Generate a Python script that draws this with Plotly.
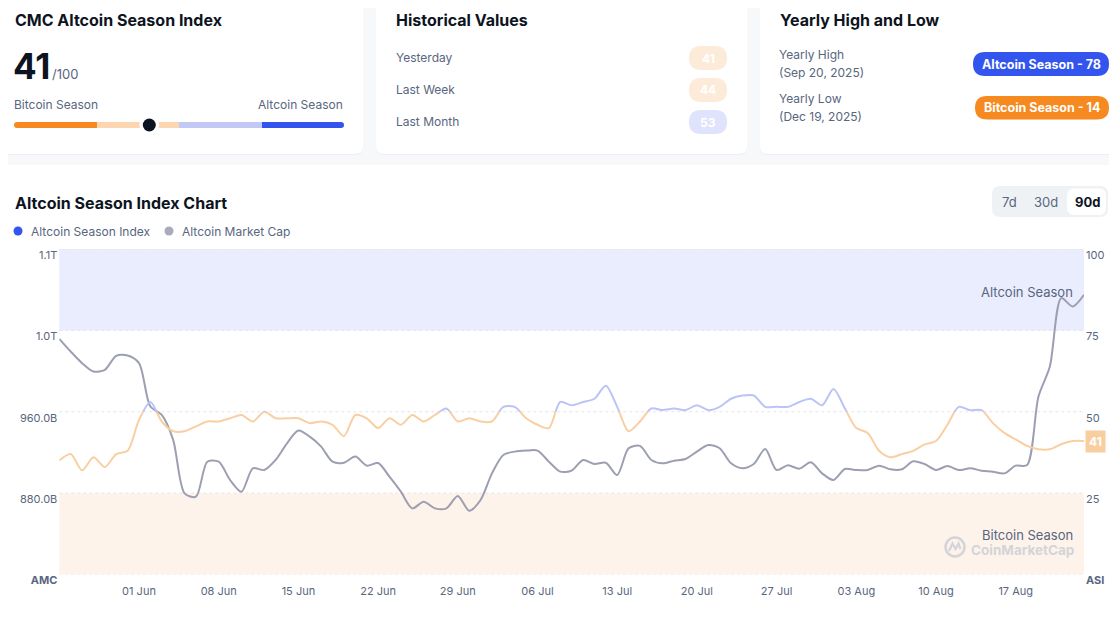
import plotly.graph_objects as go
import pandas as pd

# the page body keeps an 8px margin, so the figure is drawn 16px smaller
PAGE_W, PAGE_H, OFF = 1117, 628, 8
W, H = PAGE_W - 2 * OFF, PAGE_H - 2 * OFF

# ---- data ----
dates = pd.date_range('2025-05-25', '2025-08-23', freq='D')

asi = [35, 37, 32, 36, 33, 37, 38,
       47.5, 53, 47, 44, 44, 45.5, 47,
       47, 48, 49, 47, 50, 48, 48,
       48, 46.5, 47, 46, 42.5, 49, 48,
       45, 48, 46, 49, 47, 49, 51,
       47, 48, 47, 47, 51.5, 51.5, 48,
       46, 45, 53, 52, 53, 54, 58,
       51.5, 44, 47, 51, 50.5, 51, 50.5,
       52, 50.5, 51.5, 54, 55, 55, 51.5,
       51.5, 51.5, 53, 54, 52, 57, 51,
       45, 43.5, 38, 36, 37, 38, 40,
       41, 46, 51.5, 50.5, 50.5, 46.5, 43.5,
       41.5, 39.5, 38.5, 38.5, 40, 41, 41]

mcap = [1031.7, 1019.2, 1007.8, 999.5, 1001.2, 1015.0, 1015.3,
        1007.8, 965.1, 956.9, 932.3, 879.8, 876.5, 910.9,
        910.9, 892.9, 881.4, 904.4, 902.7, 912.6, 929.0,
        941.5, 935.5, 925.7, 910.9, 909.9, 915.9, 907.0,
        909.6, 896.2, 881.4, 865.0, 871.5, 865.0, 865.0,
        877.1, 862.7, 873.2, 899.4, 917.5, 920.8, 921.8,
        921.8, 910.9, 901.1, 902.1, 912.6, 908.6, 909.9,
        897.8, 924.1, 926.4, 912.6, 909.3, 911.9, 913.6,
        920.8, 927.3, 924.1, 909.3, 904.4, 908.6, 923.4,
        902.7, 907.3, 904.0, 910.3, 899.4, 892.9, 903.7,
        902.7, 902.7, 907.0, 903.4, 903.4, 911.3, 908.6,
        902.7, 906.7, 902.7, 904.4, 902.1, 901.1, 899.4,
        907.0, 907.6, 974.9, 1004.5, 1071.7, 1063.5, 1075.0]

tick_dates = pd.date_range('2025-06-01', '2025-08-17', freq='7D')
mcap_ticks = [800, 880, 960, 1040, 1120]
mcap_labels = ['<b>AMC</b>', '880.0B', '960.0B', '1.0T', '1.1T']
asi_ticks = [0, 25, 50, 75, 100]
asi_labels = ['<b>ASI</b>', '25', '50', '75', '100']

current_value = 41
history_labels = ['Yesterday', 'Last Week', 'Last Month']
history_values = [41, 44, 53]
yearly_labels = ['Yearly High', 'Yearly Low']
yearly_dates = ['(Sep 20, 2025)', '(Dec 19, 2025)']
yearly_badges = ['Altcoin Season - 78', 'Bitcoin Season - 14']

DARK = '#0d1421'
GREY = '#58667e'
BLUE = '#3355ee'
ORANGE = '#f6891f'
FONT = 'Inter'


# page pixels -> paper coords
def X(x):
    return (x - OFF) / W


def Y(y):
    return 1 - (y - OFF) / H


def rrect(x0, y0, x1, y1, r, color, layer='below'):
    path = (f"M {X(x0 + r)},{Y(y0)} L {X(x1 - r)},{Y(y0)} Q {X(x1)},{Y(y0)} {X(x1)},{Y(y0 + r)} "
            f"L {X(x1)},{Y(y1 - r)} Q {X(x1)},{Y(y1)} {X(x1 - r)},{Y(y1)} "
            f"L {X(x0 + r)},{Y(y1)} Q {X(x0)},{Y(y1)} {X(x0)},{Y(y1 - r)} "
            f"L {X(x0)},{Y(y0 + r)} Q {X(x0)},{Y(y0)} {X(x0 + r)},{Y(y0)} Z")
    return dict(type='path', xref='paper', yref='paper', path=path,
                fillcolor=color, line_width=0, layer=layer)


def dot(cx, cy, r, color, line=None):
    return dict(type='circle', xref='paper', yref='paper',
                x0=X(cx - r), x1=X(cx + r), y0=Y(cy + r), y1=Y(cy - r),
                fillcolor=color, line=line or dict(width=0), layer='below')


def txt(x, y, s, size=12, color=GREY, anchor='left', bold=False):
    return dict(x=X(x), y=Y(y), xref='paper', yref='paper', showarrow=False,
                text=f'<b>{s}</b>' if bold else s, xanchor=anchor, yanchor='middle',
                font=dict(family=FONT, size=size, color=color))


# plot area in page pixels
PL, PR, PT, PB = 59.3, 1084, 249, 574.5
yb, yt = Y(PB), Y(PT)
ym = (yb + yt) / 2

shapes = []
# cards
for x0, y0, x1, y1 in [(-10, -10, 363, 154), (376, -10, 747, 154),
                       (760, -10, 1130, 154), (-10, 165, 1130, 650)]:
    shapes.append(rrect(x0, y0 + 1, x1, y1 + 1, 8, '#eceef2'))
    shapes.append(rrect(x0, y0, x1, y1, 8, 'white'))

# season slider
shapes.append(rrect(259, 122, 344, 128, 3, BLUE))
shapes.append(rrect(14, 122, 100, 128, 3, ORANGE))
shapes.append(dict(type='rect', xref='paper', yref='paper', x0=X(97), x1=X(179),
                   y0=Y(128), y1=Y(122), fillcolor='#fbd6b0', line_width=0, layer='below'))
shapes.append(dict(type='rect', xref='paper', yref='paper', x0=X(179), x1=X(262),
                   y0=Y(128), y1=Y(122), fillcolor='#c3c9f6', line_width=0, layer='below'))
slider_x = 14 + (344 - 14) * current_value / 100
shapes.append(dot(slider_x, 125, 10, 'white'))
shapes.append(dot(slider_x, 125, 6.5, DARK))

# history pills
pill_colors = ['#fdebda', '#fdebda', '#dfe3fb']
for i, c in enumerate(pill_colors):
    cy = 58 + 32 * i
    shapes.append(rrect(689, cy - 12, 727, cy + 12, 12, c))

# yearly badges
shapes.append(rrect(973, 52, 1109, 76, 12, BLUE))
shapes.append(rrect(975, 96, 1109, 119.5, 12, ORANGE))

# legend dots
shapes.append(dot(18, 231, 4.5, BLUE))
shapes.append(dot(169, 231, 4.5, '#a9abbd'))

# range toggle
shapes.append(rrect(992, 186, 1108, 217, 8, '#eff2f5'))
shapes.append(rrect(1067, 188.5, 1106, 215, 7, 'white'))

# bands + grid
shapes.append(dict(type='rect', xref='paper', yref='y2', x0=X(PL), x1=X(PR), y0=75, y1=100,
                   fillcolor='#eaedfd', line_width=0, layer='below'))
shapes.append(dict(type='rect', xref='paper', yref='y2', x0=X(PL), x1=X(PR), y0=0, y1=25,
                   fillcolor='#fef3ea', line_width=0, layer='below'))
for g in asi_ticks:
    shapes.append(dict(type='line', xref='paper', yref='y2', x0=X(PL), x1=X(PR), y0=g, y1=g,
                       line=dict(color='#e3e5ea', width=1, dash='dot'), layer='below'))

# watermark logo
shapes.append(dict(type='circle', xref='paper', yref='paper',
                   x0=X(945.5), x1=X(964.5), y0=Y(556.5), y1=Y(537.5),
                   line=dict(color='#d3d4d9', width=2.5), layer='below'))
shapes.append(dict(type='path', xref='paper', yref='paper', layer='below',
                   path=f"M {X(949)},{Y(551)} L {X(952.5)},{Y(543.5)} L {X(955.5)},{Y(549)} "
                        f"L {X(958.5)},{Y(543.5)} L {X(960.5)},{Y(549)}",
                   line=dict(color='#d3d4d9', width=2.2)))

annotations = [
    txt(13, 20, 'CMC Altcoin Season Index', 16, DARK, bold=True),
    txt(11, 66, str(current_value), 35, DARK, bold=True),
    txt(50, 74, '/100', 13, GREY),
    txt(12, 104.5, 'Bitcoin Season', 12, GREY),
    txt(345, 104.5, 'Altcoin Season', 12, GREY, anchor='right'),
    txt(394, 20, 'Historical Values', 16, DARK, bold=True),
    txt(778, 20, 'Yearly High and Low', 16, DARK, bold=True),
    txt(13, 202.5, 'Altcoin Season Index Chart', 16, DARK, bold=True),
    txt(29, 231, 'Altcoin Season Index', 12, GREY),
    txt(179.5, 231, 'Altcoin Market Cap', 12, GREY),
    txt(1009, 201.5, '7d', 13, GREY, anchor='center'),
    txt(1046, 201.5, '30d', 13, GREY, anchor='center'),
    txt(1087, 201.5, '90d', 13, DARK, anchor='center', bold=True),
    txt(1075, 291.5, 'Altcoin Season', 13, GREY, anchor='right'),
    txt(1075, 535, 'Bitcoin Season', 13, GREY, anchor='right'),
    txt(1076, 549.5, '<b>CoinMarketCap</b>', 13.5, '#d3d4d9', anchor='right'),
]
for i, (lab, val) in enumerate(zip(history_labels, history_values)):
    annotations.append(txt(394, 57.5 + 32 * i, lab, 12, GREY))
    annotations.append(txt(708, 58 + 32 * i, str(val), 12, 'white', anchor='center', bold=True))
for i, (lab, d, badge) in enumerate(zip(yearly_labels, yearly_dates, yearly_badges)):
    annotations.append(txt(777, 54.5 + 44 * i, lab, 12, GREY))
    annotations.append(txt(777, 72.5 + 44 * i, d, 12, GREY))
    annotations.append(txt(1041.5, 64 + 43.5 * i, badge, 12.5, 'white', anchor='center', bold=True))
annotations.append(dict(x=X(1095.5), y=asi[-1], xref='paper', yref='y2', showarrow=False,
                        text=f'<b>{asi[-1]}</b>', xanchor='center', yanchor='middle',
                        bgcolor='#f8cea0', borderpad=3,
                        font=dict(family=FONT, size=12, color='white')))

fig = go.Figure()
fig.add_trace(go.Scatter(x=dates, y=asi, yaxis='y2', mode='lines', opacity=0,
                         line=dict(width=0), hoverinfo='skip'))
fig.add_trace(go.Scatter(x=dates, y=mcap, yaxis='y', mode='lines', hoverinfo='skip',
                         line=dict(color='#9c9fb1', width=2, shape='spline', smoothing=0.8)))
fig.add_trace(go.Scatter(x=dates, y=asi, yaxis='y3', mode='lines', hoverinfo='skip',
                         line=dict(color='#bcc3f7', width=2, shape='spline', smoothing=0.8)))
fig.add_trace(go.Scatter(x=dates, y=asi, yaxis='y4', mode='lines', hoverinfo='skip',
                         line=dict(color='#f8cfa2', width=2, shape='spline', smoothing=0.8)))

tickfont = dict(family=FONT, size=11, color=GREY)
fig.update_layout(
    width=W, height=H, autosize=False,
    margin=dict(l=0, r=0, t=0, b=0, pad=0),
    paper_bgcolor='#f7f8fa', plot_bgcolor='rgba(0,0,0,0)',
    showlegend=False, hovermode=False,
    font=dict(family=FONT, color=GREY),
    xaxis=dict(domain=[X(PL), X(PR)], range=[dates[0], dates[-1]], anchor='y',
               tickvals=tick_dates, tickformat='%d %b', showgrid=False, zeroline=False,
               showline=False, ticks='', tickfont=tickfont, automargin=False,
               ticklabelstandoff=8),
    yaxis=dict(domain=[yb, yt], range=[800, 1120], anchor='x', tickvals=mcap_ticks,
               ticktext=mcap_labels, showgrid=False, zeroline=False, ticks='',
               ticklabelshift=6, ticklabelstandoff=1, tickfont=tickfont, automargin=False),
    yaxis2=dict(overlaying='y', side='right', range=[0, 100], anchor='x', tickvals=asi_ticks,
                ticktext=asi_labels, showgrid=False, zeroline=False, ticks='',
                ticklabelshift=6, ticklabelstandoff=1, tickfont=tickfont, automargin=False),
    yaxis3=dict(domain=[ym, yt], range=[50, 100], anchor='x', visible=False, automargin=False),
    yaxis4=dict(domain=[yb, ym], range=[0, 50], anchor='x', visible=False, automargin=False),
    shapes=shapes, annotations=annotations,
)

fig.write_html('out.html')
